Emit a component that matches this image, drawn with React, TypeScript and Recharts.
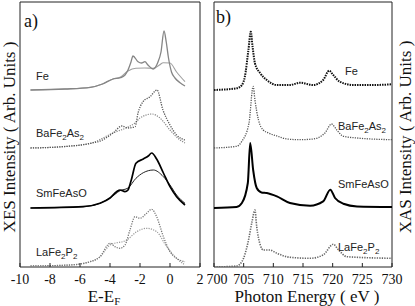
import React from "react";
import { LineChart, Line, XAxis, YAxis, ReferenceArea } from "recharts";

// E - E_F (eV) vs intensity above each trace's baseline
const FE_XES_SHARP = [[-9.3, 0], [-7, 1], [-5.3, 2.7], [-4.5, 6], [-3.8, 11], [-3.3, 12.3], [-3.0, 15], [-2.8, 20], [-2.6, 28], [-2.47, 34], [-2.13, 28.3], [-1.9, 27], [-1.67, 28.3], [-1.47, 25], [-1.13, 21], [-0.8, 28], [-0.6, 38], [-0.4, 59], [-0.25, 48], [-0.1, 32], [0.1, 18], [0.33, 12], [0.67, 7.3], [1.0, 4]];
const FE_XES_BROAD = [[-9.3, 0], [-7, 1], [-5.3, 2.7], [-4.5, 6], [-3.8, 11], [-3.3, 13], [-2.8, 19], [-2.27, 21.7], [-1.7, 22], [-1.13, 21.7], [-0.7, 25], [-0.45, 27.3], [0, 27], [0.44, 18], [1.0, 8.3]];
const BA_XES_SHARP = [[-9.3, 0], [-7, 1.5], [-5.3, 4.7], [-4.5, 8], [-3.8, 15], [-3.2, 22], [-2.8, 20], [-2.33, 21.3], [-2.13, 35], [-1.8, 46.3], [-1.33, 51.3], [-0.87, 58], [-0.47, 38], [0, 23], [0.44, 13], [1.0, 8]];
const BA_XES_BROAD = [[-9.3, 0], [-7, 1.5], [-5.3, 4.7], [-3.8, 15], [-2.8, 21], [-2.33, 25], [-2, 30], [-1.2, 34], [-0.67, 30], [0, 18], [0.67, 8], [1.0, 5]];
const SM_XES_SHARP = [[-9.3, 0], [-5.8, 1.3], [-4.67, 4.7], [-4, 10], [-3.56, 16.3], [-3.33, 18], [-3, 16.3], [-2.8, 18], [-2.58, 28], [-2.27, 44.7], [-1.78, 49], [-1.45, 52], [-1.22, 55], [-0.89, 49], [-0.44, 35], [0, 21.3], [0.44, 11.3], [1.0, 3]];
const SM_XES_BROAD = [[-9.3, 0], [-5.8, 1.3], [-4.67, 4.7], [-4, 10], [-3.33, 17.3], [-2.8, 20], [-2.27, 29.7], [-1.78, 35.3], [-1.11, 38], [-0.44, 31.3], [0, 23], [0.44, 13], [1.0, 4.7]];
const LA_XES_SHARP = [[-9.3, 0], [-6.67, 1], [-5.33, 4.3], [-4.67, 9.3], [-4, 22.7], [-3.67, 19.3], [-3.33, 17.7], [-3.0, 21], [-2.67, 36], [-2.33, 49.3], [-2, 47.7], [-1.56, 52.7], [-1.22, 56.7], [-0.89, 49.3], [-0.44, 29.3], [0, 14.3], [0.44, 7.7], [1.0, 4.3]];
const LA_XES_BROAD = [[-9.3, 0], [-6.67, 1], [-5.33, 4.3], [-4.67, 9], [-4, 21], [-2.89, 26], [-2.22, 34.3], [-1.56, 37.7], [-0.89, 34.3], [-0.22, 19.3], [0.44, 7.7], [1.0, 1]];

// photon energy (eV) vs intensity above baseline
const FE_XAS = [[700, 0], [703.8, 1.7], [704.7, 5], [705.2, 13.3], [705.8, 40], [706.2, 58.3], [706.5, 43.3], [706.9, 26.7], [707.8, 16.7], [708.9, 10], [710.6, 5], [712.8, 5], [714.5, 7.3], [716.7, 5], [718.4, 10], [719.4, 19.3], [720.1, 15], [721.2, 8.3], [723.5, 5], [726.9, 5], [730, 5.7]];
const BA_XAS = [[700, 0], [703.8, 1.7], [704.7, 6.7], [705.9, 25], [706.6, 61.7], [706.9, 48], [707.5, 28], [708.3, 18], [709.2, 15], [710.6, 12], [712.3, 9], [714.5, 8.3], [716.7, 9], [718.7, 15], [719.8, 24], [720.7, 18], [721.8, 11.7], [724.1, 10], [730, 8.3]];
const SM_XAS = [[700, 0], [703.8, 1], [704.7, 5], [705.7, 25], [706.1, 65], [706.6, 38], [707.2, 20], [708, 15.6], [708.9, 15], [710.6, 11.6], [712.8, 5], [716.2, 2.3], [718.4, 6.6], [719.6, 18.3], [720.4, 10], [721.8, 4.3], [724.1, 1.6], [730, 1]];
const LA_XAS = [[700, 0], [703.8, 1], [704.7, 5.3], [705.7, 23.7], [706.4, 45], [706.9, 57], [707.2, 40.3], [707.8, 22], [708.3, 17], [709.4, 17], [710.6, 13.7], [712.8, 9.7], [716.2, 8.7], [718.4, 12], [720.1, 22.7], [721, 17], [722.4, 10.3], [730, 8.7]];

// vertical stacking offsets: Fe, BaFe2As2, SmFeAsO, LaFe2P2
const XES_OFFSETS = [177, 119, 59, 1];
const XAS_OFFSETS = [177, 119, 59, 0];

const XES_DOMAIN = [-10, 2];
const XAS_DOMAIN = [700, 730];
const XES_TICKS = [-10, -8, -6, -4, -2, 0, 2];
const XAS_TICKS = [700, 705, 710, 715, 720, 725, 730];
const Y_DOMAIN = [0, 265];

const toData = (pts: number[][], off: number) => pts.map(([x, y]) => ({ x, y: y + off }));

const SERIF = "'Liberation Serif', 'DejaVu Serif', serif";
const SANS = "'Liberation Sans', Arial, sans-serif";

const tickFont = { fontFamily: SERIF, fontSize: 14, fill: "#111" };

function XasTick(props: any) {
  const { x, y, payload } = props;
  const dx = payload.value === 700 ? 3 : 0;
  return (
    <text x={x + dx} y={y} dy="0.71em" textAnchor="middle" {...tickFont}>
      {payload.value}
    </text>
  );
}

function Frame({ domain, ticks, tickComp }: { domain: number[]; ticks: number[]; tickComp?: any }) {
  return [
    <XAxis key="b" xAxisId={0} type="number" dataKey="x" domain={domain} ticks={ticks} allowDataOverflow
      height={39} tickSize={-4} tickMargin={11} interval={0} axisLine={false} tickLine={{ stroke: "#222" }} tick={tickComp ?? tickFont} />,
    <XAxis key="t" xAxisId="top" orientation="top" type="number" dataKey="x" domain={domain} ticks={ticks} allowDataOverflow
      height={0} tickSize={-4} interval={0} axisLine={false} tickLine={{ stroke: "#222" }} tick={() => <g />} />,
    <YAxis key="l" type="number" domain={Y_DOMAIN} width={0} tick={false} tickLine={false} axisLine={false} allowDataOverflow />,
    <ReferenceArea key="f" x1={domain[0]} x2={domain[1]} y1={Y_DOMAIN[0]} y2={Y_DOMAIN[1]} fill="none" fillOpacity={0}
      stroke="#222" strokeWidth={1} ifOverflow="visible" />,
  ];
}

function Sub({ x, y, base, sub, rest }: any) {
  return (
    <text x={x} y={y} fontFamily={SANS} fontSize={11} fill="#222">
      {base}
      {sub && <tspan fontSize={8} dy={3}>{sub}</tspan>}
      {rest && <tspan dy={-3}>{rest}</tspan>}
      {rest && <tspan fontSize={8} dy={3}>{sub}</tspan>}
    </text>
  );
}

export default function App() {
  const dotted = "1.2 1.2";
  return (
    <div style={{ position: "absolute", left: 0, top: 0, width: 415, height: 306, background: "#fff" }}>
      <div style={{ position: "absolute", left: 0, top: 0 }}>
        <LineChart width={207} height={306} margin={{ top: 2, right: 7, bottom: 0, left: 20 }}>
          {Frame({ domain: XES_DOMAIN, ticks: XES_TICKS })}
          <Line data={toData(FE_XES_BROAD, XES_OFFSETS[0])} dataKey="y" type="monotone" stroke="#a0a0a0" strokeWidth={1.1} dot={false} isAnimationActive={false} />
          <Line data={toData(FE_XES_SHARP, XES_OFFSETS[0])} dataKey="y" type="monotone" stroke="#858585" strokeWidth={1.3} dot={false} isAnimationActive={false} />
          <Line data={toData(BA_XES_BROAD, XES_OFFSETS[1])} dataKey="y" type="monotone" stroke="#888" strokeWidth={1.2} strokeDasharray={dotted} dot={false} isAnimationActive={false} />
          <Line data={toData(BA_XES_SHARP, XES_OFFSETS[1])} dataKey="y" type="monotone" stroke="#555" strokeWidth={1.3} strokeDasharray={dotted} dot={false} isAnimationActive={false} />
          <Line data={toData(SM_XES_BROAD, XES_OFFSETS[2])} dataKey="y" type="monotone" stroke="#222" strokeWidth={1} dot={false} isAnimationActive={false} />
          <Line data={toData(SM_XES_SHARP, XES_OFFSETS[2])} dataKey="y" type="monotone" stroke="#000" strokeWidth={1.7} dot={false} isAnimationActive={false} />
          <Line data={toData(LA_XES_BROAD, XES_OFFSETS[3])} dataKey="y" type="monotone" stroke="#999" strokeWidth={1.2} strokeDasharray={dotted} dot={false} isAnimationActive={false} />
          <Line data={toData(LA_XES_SHARP, XES_OFFSETS[3])} dataKey="y" type="monotone" stroke="#777" strokeWidth={1.3} strokeDasharray={dotted} dot={false} isAnimationActive={false} />
        </LineChart>
      </div>
      <div style={{ position: "absolute", left: 207, top: 0 }}>
        <LineChart width={208} height={306} margin={{ top: 2, right: 23, bottom: 0, left: 7 }}>
          {Frame({ domain: XAS_DOMAIN, ticks: XAS_TICKS, tickComp: XasTick })}
          <Line data={toData(FE_XAS, XAS_OFFSETS[0])} dataKey="y" type="monotone" stroke="#111" strokeWidth={2} strokeDasharray="1.5 1" dot={false} isAnimationActive={false} />
          <Line data={toData(BA_XAS, XAS_OFFSETS[1])} dataKey="y" type="monotone" stroke="#555" strokeWidth={1.3} strokeDasharray={dotted} dot={false} isAnimationActive={false} />
          <Line data={toData(SM_XAS, XAS_OFFSETS[2])} dataKey="y" type="monotone" stroke="#000" strokeWidth={2} dot={false} isAnimationActive={false} />
          <Line data={toData(LA_XAS, XAS_OFFSETS[3])} dataKey="y" type="monotone" stroke="#666" strokeWidth={1.6} strokeDasharray="1.3 1.2" dot={false} isAnimationActive={false} />
        </LineChart>
      </div>
      <svg width={415} height={306} style={{ position: "absolute", left: 0, top: 0, pointerEvents: "none" }}>
        <text x={24} y={27} fontFamily={SERIF} fontSize={18} fill="#111">a)</text>
        <text x={216} y={23} fontFamily={SERIF} fontSize={18} fill="#111">b)</text>

        <text transform="translate(15,137) rotate(-90)" textAnchor="middle" fontFamily={SERIF} fontSize={17} fill="#111">XES Intensity ( Arb. Units )</text>
        <text transform="translate(411,137) rotate(-90)" textAnchor="middle" fontFamily={SERIF} fontSize={17} fill="#111">XAS Intensity ( Arb. Units )</text>

        <text x={104} y={302} textAnchor="middle" fontFamily={SERIF} fontSize={17} fill="#111">
          E-E<tspan fontSize={11} dy={3}>F</tspan>
        </text>
        <text x={307} y={302} textAnchor="middle" fontFamily={SERIF} fontSize={17} fill="#111">Photon Energy ( eV )</text>

        <Sub x={36} y={80} base="Fe" />
        <Sub x={36} y={137} base="BaFe" sub="2" rest="As" />
        <Sub x={36} y={197} base="SmFeAsO" />
        <Sub x={36} y={256} base="LaFe" sub="2" rest="P" />

        <Sub x={345} y={75} base="Fe" />
        <Sub x={338} y={130} base="BaFe" sub="2" rest="As" />
        <Sub x={338} y={188} base="SmFeAsO" />
        <Sub x={338} y={251} base="LaFe" sub="2" rest="P" />
      </svg>
    </div>
  );
}
